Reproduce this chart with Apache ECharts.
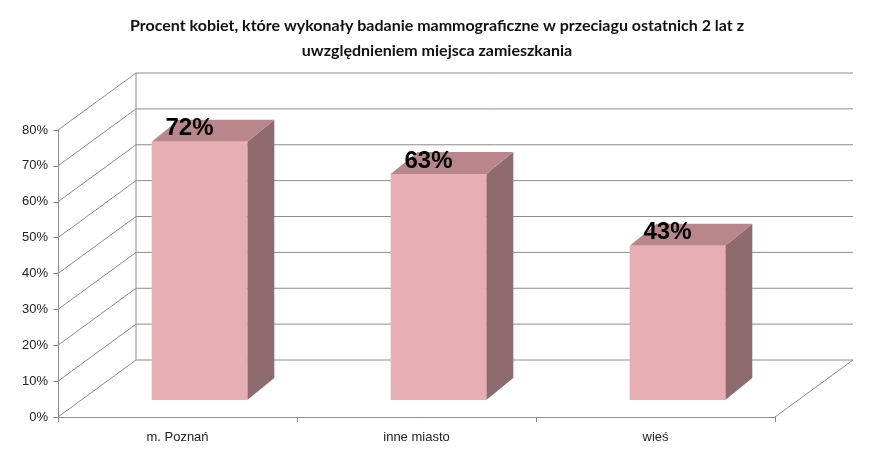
<!DOCTYPE html>
<html><head><meta charset="utf-8">
<script src="https://cdn.jsdelivr.net/npm/echarts@6/dist/echarts.min.js"></script>
<style>html,body{margin:0;padding:0;background:#fff}#c{width:874px;height:461px}</style>
</head><body><div id="c"></div>
<script>
const categories = ['m. Poznań', 'inne miasto', 'wieś'];
const values = [72, 63, 43];
const yTicks = [0, 10, 20, 30, 40, 50, 60, 70, 80];
const titleText = 'Procent kobiet, które wykonały badanie mammograficzne w przeciagu ostatnich 2 lat z\nuwzględnieniem miejsca zamieszkania';

const DX = 78, DY = -57;      // depth of walls
const BX = 22, BY = -17;      // bar front offset from front plane
const BDX = 27, BDY = -22;    // bar depth
const grid = '#8c8c8c';

const chart = echarts.init(document.getElementById('c'));
chart.setOption({
  animation: false,
  title: { text: titleText, left: 'center', top: 8,
    textStyle: { fontFamily: 'Lato', fontWeight: 'bold', fontSize: 16, lineHeight: 25, color: '#111' } },
  grid: { left: 58, right: 99, top: 130, bottom: 44 },
  xAxis: { type: 'category', data: categories,
    axisLine: { lineStyle: { color: grid } }, axisTick: { show: true, lineStyle: { color: grid } },
    axisLabel: { fontFamily: 'Liberation Sans', fontSize: 13, color: '#222', margin: 14 } },
  yAxis: { type: 'value', min: 0, max: 80, interval: 10,
    axisLine: { show: true, lineStyle: { color: grid } }, axisTick: { show: true, lineStyle: { color: grid } },
    splitLine: { show: false },
    axisLabel: { formatter: v => v + '%', fontFamily: 'Liberation Sans', fontSize: 13, color: '#222', margin: 10 } },
  series: [
    { type: 'custom', data: yTicks.map(v => [0, v]), silent: true, z: 1,
      renderItem: function (params, api) {
        const cs = params.coordSys;
        const v = api.value(1);
        const y = api.coord([0, v])[1];
        const x0 = cs.x, x1 = cs.x + cs.width;
        const pts = v === 0
          ? [[x0, y], [x0 + DX, y + DY], [x1 + DX, y + DY], [x1, y]]
          : [[x0, y], [x0 + DX, y + DY], [x1 + DX, y + DY]];
        const children = [{ type: 'polyline', shape: { points: pts }, style: { stroke: grid, fill: null, lineWidth: 1 } }];
        if (v === 0) {
          const yt = api.coord([0, 80])[1];
          children.push({ type: 'line', shape: { x1: x0 + DX, y1: y + DY, x2: x0 + DX, y2: yt + DY }, style: { stroke: grid, lineWidth: 1 } });
        }
        return { type: 'group', children };
      } },
    { type: 'custom', data: values.map((v, i) => [i, v]), z: 5,
      renderItem: function (params, api) {
        const base = api.coord([api.value(0), 0]);
        const top = api.coord([api.value(0), api.value(1)]);
        const w = api.size([1, 0])[0] * 0.4;
        const l = base[0] - w / 2 + BX, r = l + w;
        const b = base[1] + BY, t = top[1] + BY;
        return { type: 'group', children: [
          { type: 'polygon', shape: { points: [[r, b], [r + BDX, b + BDY], [r + BDX, t + BDY], [r, t]] }, style: { fill: '#8d6b6f' } },
          { type: 'polygon', shape: { points: [[l, t], [l + BDX, t + BDY], [r + BDX, t + BDY], [r, t]] }, style: { fill: '#b9878b' } },
          { type: 'rect', shape: { x: l, y: t, width: w, height: b - t }, style: { fill: '#e7aeb4' } },
          { type: 'text', style: { text: api.value(1) + '%', x: (l + r) / 2 - 10, y: t - 13, align: 'center', verticalAlign: 'middle',
            font: 'bold 24px "Liberation Sans"', fill: '#000' } }
        ] };
      } }
  ]
});
</script></body></html>
